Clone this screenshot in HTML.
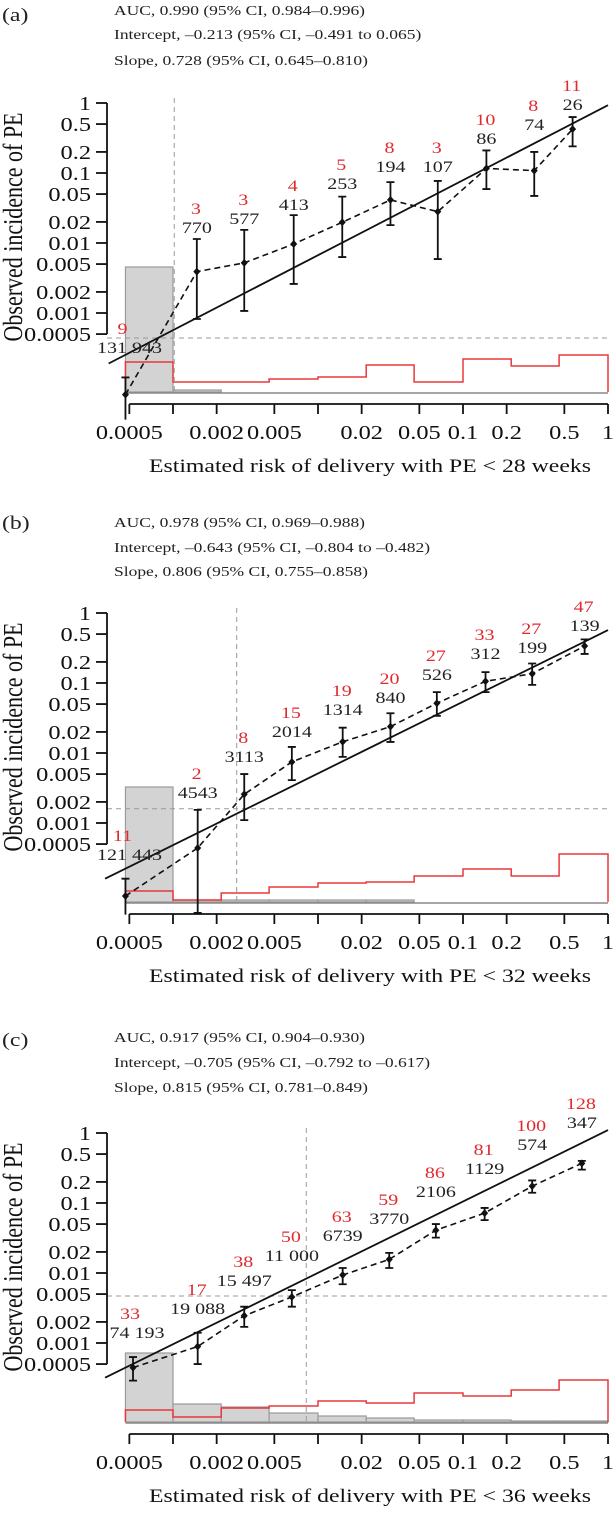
<!DOCTYPE html>
<html><head><meta charset="utf-8">
<style>
html,body{margin:0;padding:0;background:#fff;}
svg{display:block;font-family:"Liberation Serif",serif;}
</style></head>
<body>
<svg id="chart" width="616" height="1515" viewBox="0 0 616 1515" xmlns="http://www.w3.org/2000/svg"></svg>
<script>
// ---------- shared axis data ----------
const xTickVals = [0.0005,0.001,0.002,0.005,0.01,0.02,0.05,0.1,0.2,0.5,1];
const xTickLabels = ["0.0005","","0.002","0.005","","0.02","0.05","0.1","0.2","0.5","1"];
const yTickVals = [1,0.5,0.2,0.1,0.05,0.02,0.01,0.005,0.002,0.001,0.0005];
const yTickLabels = ["1","0.5","0.2","0.1","0.05","0.02","0.01","0.005","0.002","0.001","0.0005"];
const binEdges = [0.00047,0.001,0.00215,0.0046,0.01,0.0215,0.046,0.1,0.215,0.46,1];

// ---------- panel (a) ----------
const predA = [0.00047,0.00146,0.0031,0.0068,0.0147,0.0316,0.067,0.145,0.31,0.57];
const eventsA = [9,3,3,4,5,8,3,10,8,11];
const nA = ["131 943","770","577","413","253","194","107","86","74","26"];
const nValA = [131943,770,577,413,253,194,107,86,74,26];
const ciLoA = [3e-5,0.00082,0.00107,0.0026,0.0063,0.018,0.0059,0.059,0.047,0.24];
const ciHiA = [1.2e-4,0.0114,0.0154,0.025,0.046,0.074,0.077,0.21,0.2,0.63];
const redHistA = [30,10,10,13,15,27,10,33,26,37];
const greyHistA = [125,2,0,0,0,0,0,0,0,0];
const calLineA = [0.00036,1.9e-4,1,0.93];
const threshA = [0.00102,0.00044];
const statsA = ["AUC, 0.990 (95% CI, 0.984–0.996)","Intercept, –0.213 (95% CI, –0.491 to 0.065)","Slope, 0.728 (95% CI, 0.645–0.810)"];

// ---------- panel (b) ----------
const predB = [0.00047,0.00148,0.0031,0.0066,0.0148,0.0316,0.066,0.143,0.30,0.69];
const eventsB = [11,2,8,15,19,20,27,33,27,47];
const nB = ["121 443","4543","3113","2014","1314","840","526","312","199","139"];
const nValB = [121443,4543,3113,2014,1314,840,526,312,199,139];
const ciLoB = [4.9e-5,5.2e-5,0.0011,0.0041,0.0088,0.0144,0.034,0.074,0.094,0.26];
const ciHiB = [1.6e-4,0.00154,0.005,0.0122,0.023,0.037,0.074,0.143,0.19,0.42];
const redHistB = [11,2,9,15,19,20,26,33,26,48];
const greyHistB = [115,2,2,2,2,2,0,0,0,0];
const calLineB = [0.00034,1.6e-4,1,0.57];
const threshB = [0.00275,0.0016];
const statsB = ["AUC, 0.978 (95% CI, 0.969–0.988)","Intercept, –0.643 (95% CI, –0.804 to –0.482)","Slope, 0.806 (95% CI, 0.755–0.858)"];

// ---------- panel (c) ----------
const predC = [0.00053,0.00148,0.0031,0.0066,0.0148,0.031,0.065,0.141,0.30,0.66];
const eventsC = [33,17,38,50,63,59,86,81,100,128];
const nC = ["74 193","19 088","15 497","11 000","6739","3770","2106","1129","574","347"];
const nValC = [74193,19088,15497,11000,6739,3770,2106,1129,574,347];
const ciLoC = [2.9e-4,0.0005,0.0017,0.0033,0.0069,0.0118,0.032,0.057,0.14,0.3];
const ciHiC = [6.3e-4,0.0014,0.0033,0.0057,0.0118,0.0194,0.05,0.085,0.21,0.4];
const redHistC = [12,5,14,16,21,19,29,26,32,42];
const greyHistC = [69,18,15,9,6,4,2,2,1,1];
const calLineC = [0.00034,3.2e-4,1,1.1];
const threshC = [0.0083,0.0047];
const statsC = ["AUC, 0.917 (95% CI, 0.904–0.930)","Intercept, –0.705 (95% CI, –0.792 to –0.617)","Slope, 0.815 (95% CI, 0.781–0.849)"];

// ---------- layout (not data) ----------
const labelPosA = [348,228,219,205,184,167,167,139,125,105];
const labelPosB = [345,283,247,222,200,188,165,144,138,116];
const labelPosC = [303,279,251,226,206,189,162,139,115,93];

const NS = "http://www.w3.org/2000/svg";
const svg = document.getElementById("chart");
const SX = 1.25;
function xs(p){ return 608 + 145*Math.log10(p); }
function ysf(off){ return v => off + 103 - 70*Math.log10(v); }
function mk(tag, attrs, parent){
  const e = document.createElementNS(NS, tag);
  for (const k in attrs) e.setAttribute(k, attrs[k]);
  parent.appendChild(e);
  return e;
}
function txt(parent, str, x, y, size, anchor, fill){
  const t = mk("text", {transform:`translate(${x},${y}) scale(${SX},1)`, x:0, y:0, "font-size":size, "text-anchor":anchor, fill:fill}, parent);
  t.textContent = str;
  return t;
}

function panel(o){
  const ys = ysf(o.off);
  const g = mk("g", {}, svg);
  
  

  const lab = txt(g, o.letter, 2, o.letterY, 19, "start", "#222");
  
  
  o.stats.forEach((s,i)=>{
    const t = txt(g, s, 114, o.statsY[i], 14, "start", "#222");
    
    
  });

  // histograms
  const base = o.off + 392;
  for (let i=0;i<10;i++){
    const h = o.grey[i];
    if (h <= 0) continue;
    const r = mk("rect", {x:xs(binEdges[i]), y:base-h, width:xs(binEdges[i+1])-xs(binEdges[i]), height:h, fill:"#d3d3d3", stroke:"#9a9a9a", "stroke-width":1.2}, g);
    
    
  }
  const bl = mk("line", {x1:xs(binEdges[0]), x2:xs(1), y1:base+1, y2:base+1, stroke:"#888", "stroke-width":1.5}, g);
  
  
  let d = `M${xs(binEdges[0])},${base}`;
  for (let i=0;i<10;i++){ d += ` V${base-o.red[i]} H${xs(binEdges[i+1])}`; }
  d += ` V${base}`;
  const rp = mk("path", {d:d, fill:"none", stroke:"#e8383d", "stroke-width":1.5}, g);
  
  

  // thresholds
  const tx = xs(o.thresh[0]), ty = ys(o.thresh[1]);
  const vt = mk("line", {x1:tx, x2:tx, y1:o.off+98, y2:o.off+393, stroke:"#9a9a9a", "stroke-width":1, "stroke-dasharray":"5,4"}, g);
  
  
  const ht = mk("line", {x1:107, x2:608, y1:ty, y2:ty, stroke:"#9a9a9a", "stroke-width":1, "stroke-dasharray":"5,4"}, g);
  
  

  // y axis
  const ya = mk("line", {x1:107, x2:107, y1:ys(1), y2:ys(0.0005), stroke:"#111", "stroke-width":1.8}, g);
  
  
  yTickVals.forEach((v,i)=>{
    const y = ys(v);
    const tk = mk("line", {x1:96, x2:107, y1:y, y2:y, stroke:"#111", "stroke-width":1.8}, g);
    
    
    const t = txt(g, yTickLabels[i], 91, y+7, 19.5, "end", "#111");
    
    
  });
  const yt = mk("text", {transform:`translate(22,${o.off+227}) rotate(-90) scale(1,${SX})`, "font-size":22, "text-anchor":"middle", fill:"#111"}, g);
  yt.textContent = "Observed incidence of PE";
  
  

  // x axis
  const xa = mk("line", {x1:xs(0.0005), x2:xs(1), y1:o.off+404, y2:o.off+404, stroke:"#111", "stroke-width":1.8}, g);
  
  
  xTickVals.forEach((v,i)=>{
    const x = xs(v);
    const tk = mk("line", {x1:x, x2:x, y1:o.off+404, y2:o.off+414, stroke:"#111", "stroke-width":1.8}, g);
    
    
    if (xTickLabels[i]){
      const t = txt(g, xTickLabels[i], x, o.off+439, 19.5, "middle", "#111");
      
      
    }
  });
  const xt = txt(g, o.xtitle, 370, o.off+472, 19, "middle", "#111");
  
  

  // calibration line
  const cl = mk("line", {x1:xs(o.cal[0]), y1:ys(o.cal[1]), x2:xs(o.cal[2]), y2:ys(o.cal[3]), stroke:"#111", "stroke-width":1.8}, g);
  
  

  // observed dashed line
  const obs = o.events.map((e,i)=> e/o.nVal[i]);
  const pts = o.pred.map((p,i)=> `${xs(p)},${ys(obs[i])}`).join(" ");
  const ol = mk("polyline", {points:pts, fill:"none", stroke:"#111", "stroke-width":1.6, "stroke-dasharray":"6,4"}, g);
  
  

  o.pred.forEach((p,i)=>{
    const x = xs(p), y = ys(obs[i]);
    const lo = ys(o.lo[i]), hi = ys(o.hi[i]);
    const eb = mk("path", {d:`M${x},${hi} V${lo} M${x-4},${hi} H${x+4}` + (lo < o.off+404 ? ` M${x-4},${lo} H${x+4}` : ""), fill:"none", stroke:"#111", "stroke-width":1.8}, g);
    
    
    const pt = mk("path", {d:`M${x},${y-4} L${x+3.5},${y} L${x},${y+4} L${x-3.5},${y} Z`, fill:"#111"}, g);
    
    
    const ly = o.off + o.lpos[i];
    const nt = txt(g, o.n[i], x + (i===0?4:0), ly+5, 16, "middle", "#222");
    
    
    const et = txt(g, String(o.events[i]), x - (i===0?3:1), ly-14, 16, "middle", "#e02a2f");
    
    
  });
}

panel({name:"panel-a", letter:"(a)", letterY:21, statsY:[15,39,65], off:0, stats:statsA,
  pred:predA, events:eventsA, n:nA, nVal:nValA, lo:ciLoA, hi:ciHiA, red:redHistA, grey:greyHistA,
  cal:calLineA, thresh:threshA, lpos:labelPosA, xtitle:"Estimated risk of delivery with PE < 28 weeks"});
panel({name:"panel-b", letter:"(b)", letterY:529, statsY:[527,552,576], off:510, stats:statsB,
  pred:predB, events:eventsB, n:nB, nVal:nValB, lo:ciLoB, hi:ciHiB, red:redHistB, grey:greyHistB,
  cal:calLineB, thresh:threshB, lpos:labelPosB, xtitle:"Estimated risk of delivery with PE < 32 weeks"});
panel({name:"panel-c", letter:"(c)", letterY:1046, statsY:[1042,1067,1092], off:1030, stats:statsC,
  pred:predC, events:eventsC, n:nC, nVal:nValC, lo:ciLoC, hi:ciHiC, red:redHistC, grey:greyHistC,
  cal:calLineC, thresh:threshC, lpos:labelPosC, xtitle:"Estimated risk of delivery with PE < 36 weeks"});
</script>
</body></html>
